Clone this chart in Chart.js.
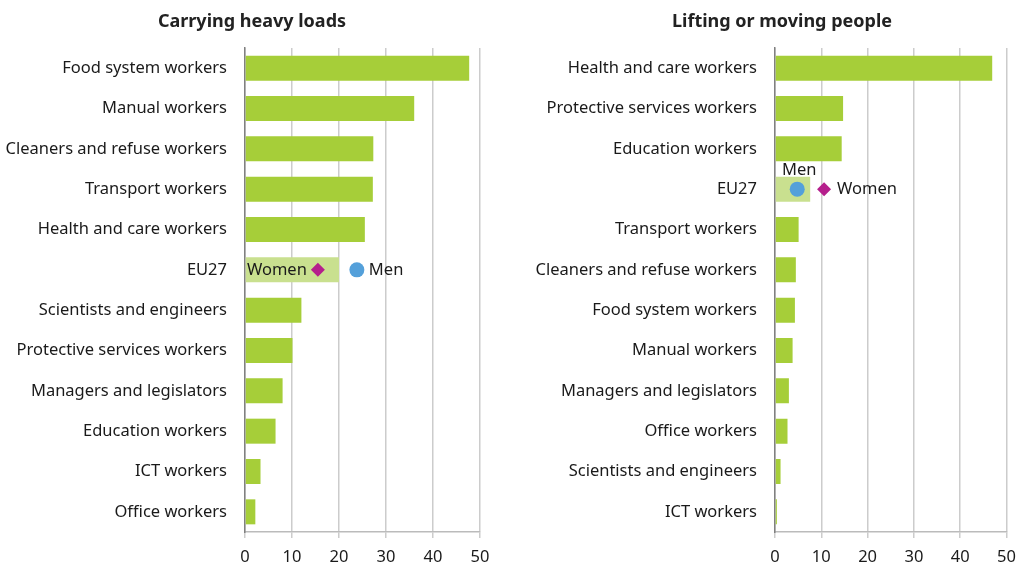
<!DOCTYPE html>
<html>
<head>
<meta charset="utf-8">
<script src="https://cdn.jsdelivr.net/npm/chart.js@4/dist/chart.umd.min.js"></script>
<style>
  body { margin: 0; background: #fff; }
  #wrap { position: relative; width: 1025px; height: 566px; }
  canvas { position: absolute; top: 0; }
  #leftChart { left: 0; }
  #rightChart { left: 525px; }
  .title {
    position: absolute; top: 8px; width: 400px; text-align: center;
    font: bold 18px 'Noto Sans', sans-serif; color: #222; line-height: 24px;
  }
  #leftTitle { left: 52px; }
  #rightTitle { left: 582px; }
</style>
</head>
<body>
<div id="wrap">
  <canvas id="leftChart" width="500" height="566"></canvas>
  <canvas id="rightChart" width="500" height="566"></canvas>
  <div class="title" id="leftTitle">Carrying heavy loads</div>
  <div class="title" id="rightTitle">Lifting or moving people</div>
</div>
<script>
// Carrying heavy loads (%)
const leftLabels = ['Food system workers', 'Manual workers', 'Cleaners and refuse workers', 'Transport workers',
  'Health and care workers', 'EU27', 'Scientists and engineers', 'Protective services workers',
  'Managers and legislators', 'Education workers', 'ICT workers', 'Office workers'];
const leftValues = [47.7, 36.0, 27.3, 27.2, 25.5, 20.0, 12.0, 10.1, 8.0, 6.5, 3.3, 2.2];
const leftWomen = 15.5;
const leftMen = 23.8;

// Lifting or moving people (%)
const rightLabels = ['Health and care workers', 'Protective services workers', 'Education workers', 'EU27',
  'Transport workers', 'Cleaners and refuse workers', 'Food system workers', 'Manual workers',
  'Managers and legislators', 'Office workers', 'Scientists and engineers', 'ICT workers'];
const rightValues = [46.9, 14.7, 14.4, 7.6, 5.1, 4.5, 4.3, 3.8, 3.0, 2.7, 1.2, 0.4];
const rightWomen = 10.6;
const rightMen = 4.8;

const xTicks = [0, 10, 20, 30, 40, 50];

Chart.defaults.font.family = "'Noto Sans', sans-serif";
Chart.defaults.color = '#1a1a1a';

const GREEN = '#a6ce39';
const LIGHT_GREEN = '#c9e08f';
const MAGENTA = '#b51f8c';
const BLUE = '#54a0da';

// writes "Women" / "Men" next to the EU27 markers
const markerLabels = {
  id: 'markerLabels',
  afterDatasetsDraw(chart, args, opts) {
    const ctx = chart.ctx;
    ctx.save();
    ctx.font = "16.5px 'Noto Sans', sans-serif";
    ctx.fillStyle = '#1a1a1a';
    ctx.textBaseline = 'middle';
    opts.items.forEach(it => {
      const meta = chart.getDatasetMeta(it.dataset);
      const pt = meta.data[it.index];
      if (!pt) return;
      ctx.textAlign = it.align;
      ctx.fillText(it.text, pt.x + it.dx, pt.y + it.dy);
    });
    ctx.restore();
  }
};

function makeChart(id, labels, values, women, men, axisWidth, padRight, labelItems) {
  const eu = labels.indexOf('EU27');
  return new Chart(document.getElementById(id), {
    type: 'bar',
    data: {
      labels: labels,
      datasets: [
        {
          label: 'Women',
          type: 'line',
          indexAxis: 'y',
          data: labels.map((l, i) => i === eu ? women : null),
          showLine: false,
          pointStyle: 'rectRot',
          pointRadius: 7,
          pointHoverRadius: 7,
          pointBackgroundColor: MAGENTA,
          pointBorderWidth: 0,
          order: 0,
        },
        {
          label: 'Men',
          type: 'line',
          indexAxis: 'y',
          data: labels.map((l, i) => i === eu ? men : null),
          showLine: false,
          pointStyle: 'circle',
          pointRadius: 7.5,
          pointHoverRadius: 7.5,
          pointBackgroundColor: BLUE,
          pointBorderWidth: 0,
          order: 0,
        },
        {
          label: 'Total',
          data: values,
          backgroundColor: labels.map(l => l === 'EU27' ? LIGHT_GREEN : GREEN),
          barPercentage: 0.62,
          categoryPercentage: 1,
          order: 1,
        },
      ],
    },
    options: {
      indexAxis: 'y',
      responsive: false,
      animation: false,
      layout: { padding: { top: 48, right: padRight, bottom: 1 } },
      plugins: {
        legend: { display: false },
        tooltip: { enabled: false },
        markerLabels: { items: labelItems },
      },
      scales: {
        x: {
          min: 0,
          max: 50,
          afterBuildTicks: s => { s.ticks = xTicks.map(v => ({ value: v })); },
          afterFit: s => { s.height = 33; },
          grid: { color: '#cccccc', lineWidth: 1.5, tickLength: 6 },
          border: { display: true, color: '#bbbbbb', width: 1.5 },
          ticks: { font: { size: 16.5 }, padding: 9, color: '#1a1a1a' },
        },
        y: {
          afterFit: s => { s.width = axisWidth; },
          grid: { display: false, drawTicks: false },
          border: { display: true, color: '#808080', width: 1.5 },
          ticks: { font: { size: 16.5 }, padding: 18, color: '#1a1a1a', autoSkip: false },
        },
      },
    },
    plugins: [markerLabels],
  });
}

makeChart('leftChart', leftLabels, leftValues, leftWomen, leftMen, 245, 20, [
  { dataset: 0, index: leftLabels.indexOf('EU27'), text: 'Women', align: 'right', dx: -11, dy: 0 },
  { dataset: 1, index: leftLabels.indexOf('EU27'), text: 'Men', align: 'left', dx: 12, dy: 0 },
]);

makeChart('rightChart', rightLabels, rightValues, rightWomen, rightMen, 250, 15, [
  { dataset: 0, index: rightLabels.indexOf('EU27'), text: 'Women', align: 'left', dx: 13, dy: 0 },
  { dataset: 1, index: rightLabels.indexOf('EU27'), text: 'Men', align: 'center', dx: 2, dy: -19 },
]);
</script>
</body>
</html>
